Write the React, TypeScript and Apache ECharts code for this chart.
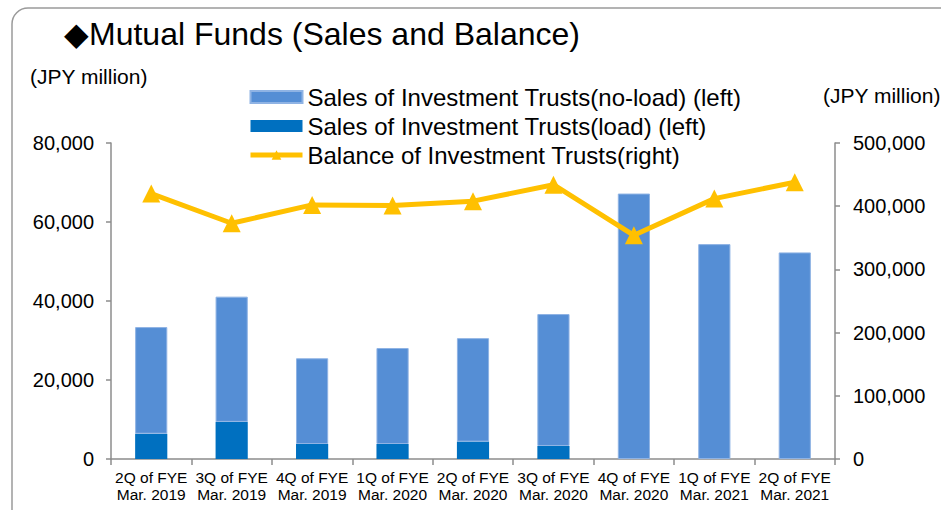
import React, { useEffect, useRef } from "react";
import * as echarts from "echarts";

const categories = [
  "2Q of FYE\nMar. 2019",
  "3Q of FYE\nMar. 2019",
  "4Q of FYE\nMar. 2019",
  "1Q of FYE\nMar. 2020",
  "2Q of FYE\nMar. 2020",
  "3Q of FYE\nMar. 2020",
  "4Q of FYE\nMar. 2020",
  "1Q of FYE\nMar. 2021",
  "2Q of FYE\nMar. 2021",
];
const salesLoad = [6400, 9400, 3800, 3800, 4400, 3300, 0, 0, 0];
const salesNoLoad = [27000, 31700, 21700, 24300, 26200, 33400, 67200, 54400, 52300];
const balance = [420000, 373000, 402000, 401000, 408000, 434000, 354000, 412000, 438000];

const FONT = "'Liberation Sans', Arial, sans-serif";

export default function App() {
  const ref = useRef<HTMLDivElement>(null);
  useEffect(() => {
    if (!ref.current) return;
    const chart = echarts.init(ref.current, undefined, { renderer: "svg" });
    const axisLine = { show: true, lineStyle: { color: "#8c8c8c", width: 1.5 } };
    const fmt = (v: number) => v.toLocaleString("en-US");
    chart.setOption({
      animation: false,
      textStyle: { fontFamily: FONT },
      graphic: [
        {
          type: "rect",
          shape: { x: 12, y: 8, width: 960, height: 540, r: 16 },
          style: { fill: "none", stroke: "#9a9a9a", lineWidth: 1.5 },
          silent: true,
        },
        {
          type: "text",
          x: 64,
          y: 34,
          style: { text: "◆Mutual Funds (Sales and Balance)", font: `32px ${FONT}`, fill: "#000", verticalAlign: "middle" },
        },
        {
          type: "text",
          x: 30,
          y: 76,
          style: { text: "(JPY million)", font: `21px ${FONT}`, fill: "#000", verticalAlign: "middle" },
        },
        {
          type: "text",
          x: 823,
          y: 95,
          style: { text: "(JPY million)", font: `21px ${FONT}`, fill: "#000", verticalAlign: "middle" },
        },
      ],
      legend: {
        orient: "vertical",
        left: 248,
        top: 85,
        padding: 0,
        itemWidth: 52,
        itemHeight: 12,
        itemGap: 5,
        textStyle: { fontSize: 24, color: "#000", fontFamily: FONT, padding: [0, 0, 0, 0] },
        data: [
          { name: "Sales of Investment Trusts(no-load) (left)", icon: "rect" },
          { name: "Sales of Investment Trusts(load) (left)", icon: "rect" },
          { name: "Balance of Investment Trusts(right)", lineStyle: { width: 5, color: "#FFC000" } },
        ],
      },
      grid: { left: 111, right: 106, top: 143, bottom: 51 },
      xAxis: {
        type: "category",
        data: categories,
        axisLine,
        axisTick: { show: true, length: 6, lineStyle: { color: "#8c8c8c", width: 1.5 } },
        axisLabel: { color: "#000", fontSize: 15.5, lineHeight: 17, margin: 10, interval: 0, fontFamily: FONT },
      },
      yAxis: [
        {
          type: "value",
          min: 0,
          max: 80000,
          interval: 20000,
          position: "left",
          splitLine: { show: false },
          axisLine,
          axisTick: { show: true, length: 5, lineStyle: { color: "#8c8c8c", width: 1.5 } },
          axisLabel: { color: "#000", fontSize: 20, margin: 17, fontFamily: FONT, formatter: fmt },
        },
        {
          type: "value",
          min: 0,
          max: 500000,
          interval: 100000,
          position: "right",
          splitLine: { show: false },
          axisLine,
          axisTick: { show: true, length: 5, lineStyle: { color: "#8c8c8c", width: 1.5 } },
          axisLabel: { color: "#000", fontSize: 20, margin: 18, fontFamily: FONT, formatter: fmt },
        },
      ],
      series: [
        {
          name: "Sales of Investment Trusts(load) (left)",
          type: "bar",
          stack: "sales",
          yAxisIndex: 0,
          barWidth: "40%",
          data: salesLoad,
          itemStyle: { color: "#0070C0" },
        },
        {
          name: "Sales of Investment Trusts(no-load) (left)",
          type: "bar",
          stack: "sales",
          yAxisIndex: 0,
          barWidth: "40%",
          data: salesNoLoad,
          itemStyle: { color: "#558ED5", borderColor: "#8fb3e4", borderWidth: 1 },
        },
        {
          name: "Balance of Investment Trusts(right)",
          type: "line",
          yAxisIndex: 1,
          data: balance,
          symbol: "triangle",
          symbolSize: 18,
          lineStyle: { color: "#FFC000", width: 5 },
          itemStyle: { color: "#FFC000" },
          z: 5,
        },
      ],
    });
    return () => chart.dispose();
  }, []);
  return <div ref={ref} style={{ width: 941, height: 510, position: "absolute", left: 0, top: 0 }} />;
}
